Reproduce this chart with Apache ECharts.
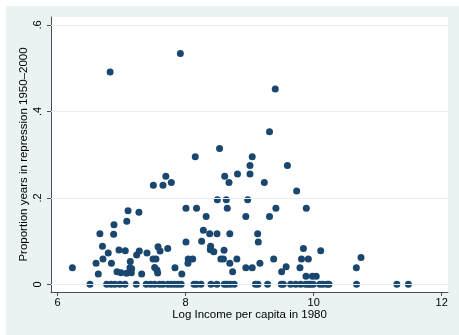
<!DOCTYPE html>
<html><head><meta charset="utf-8">
<script src="https://cdn.jsdelivr.net/npm/echarts@6/dist/echarts.min.js"></script>
<style>
html,body{margin:0;padding:0;background:#fff;width:459px;height:335px;overflow:hidden;}
#frame{position:absolute;left:6px;top:6px;width:453px;height:329px;background:#EAF2F3;}
#chart{width:453px;height:329px;}
</style></head><body><div id="frame"><div id="chart"></div></div>
<script>
const xTicks = [6, 8, 10, 12];
const yTicks = [0, 0.2, 0.4, 0.6];
const xTitle = 'Log Income per capita in 1980';
const yTitle = 'Proportion years in repression 1950\u20132000';

// countries with positive repression share
const logIncome = [6.82,7.917,9.40,9.31,8.53,9.04,8.15,9.59,9.005,7.69,8.61,8.81,9.005,7.495,7.646,7.776,8.677,9.229,9.734,8.495,8.635,8.969,8.005,8.17,8.65,9.41,9.885,7.10,7.27,8.32,8.94,9.31,7.08,6.88,6.66,6.875,8.276,8.375,8.49,8.69,9.125,9.135,8.005,8.25,6.70,7.568,8.39,7.72,6.958,7.057,7.276,7.234,6.79,7.396,7.60,8.385,8.44,8.60,9.84,10.11,10.74,6.708,7.49,7.536,8.04,8.11,8.55,8.59,8.80,9.375,9.81,9.917,7.135,6.60,6.84,8.036,8.69,9.16,7.516,6.23,7.833,8.94,9.04,9.57,9.786,10.667,7.13,7.156,7.552,6.927,6.99,7.078,7.151,7.5625,9.50,8.734,6.635,7.3125,7.94,9.88,9.98,10.04];
const repression = [0.491,0.534,0.452,0.353,0.314,0.295,0.295,0.275,0.275,0.250,0.250,0.255,0.255,0.229,0.229,0.2355,0.2355,0.2355,0.216,0.196,0.196,0.196,0.176,0.176,0.176,0.176,0.176,0.170,0.167,0.157,0.157,0.157,0.146,0.138,0.117,0.116,0.125,0.117,0.117,0.117,0.117,0.098,0.098,0.0996,0.088,0.087,0.088,0.083,0.0795,0.078,0.077,0.068,0.0726,0.0726,0.077,0.080,0.0757,0.079,0.083,0.078,0.062,0.0587,0.0587,0.0587,0.0587,0.0587,0.0587,0.0587,0.0587,0.0587,0.0587,0.0587,0.053,0.0486,0.0486,0.049,0.0486,0.0486,0.039,0.0386,0.0386,0.0386,0.0386,0.041,0.0386,0.0386,0.0386,0.036,0.033,0.029,0.027,0.0255,0.027,0.026,0.029,0.029,0.024,0.024,0.024,0.019,0.019,0.019];

// countries with zero repression share
const logIncomeZero = [6.505,6.766,6.833,6.895,6.973,7.052,7.228,7.384,7.453,7.516,7.594,7.645,7.723,7.775,7.828,7.88,7.93,8.13,8.17,8.24,8.395,8.489,8.603,8.645,8.697,8.759,9.09,9.13,9.28,9.494,9.525,9.64,9.72,9.797,9.875,9.916,9.953,9.994,10.098,10.145,10.21,10.24,10.67,11.30,11.48];
const repressionZero = logIncomeZero.map(() => 0);

const points = logIncome.map((x, i) => [x, repression[i]])
  .concat(logIncomeZero.map((x, i) => [x, repressionZero[i]]));

const FONT = '"Liberation Sans", Arial, sans-serif';
const axisColor = '#4d4d4d';

const chart = echarts.init(document.getElementById('chart'), null, {renderer: 'canvas'});
chart.setOption({
  animation: false,
  backgroundColor: 'transparent',
  textStyle: {fontFamily: FONT},
  grid: {left: 45, top: 11, width: 397, height: 275, show: true, backgroundColor: '#ffffff', borderWidth: 0},
  xAxis: {
    type: 'value', min: 5.896, max: 12.099,
    name: xTitle, nameLocation: 'middle', nameGap: 17, nameMoveOverlap: false,
    nameTextStyle: {color: '#000', fontSize: 11.5, fontFamily: FONT},
    axisLine: {show: true, onZero: false, lineStyle: {color: axisColor, width: 1}},
    axisTick: {show: true, customValues: xTicks, length: 4, lineStyle: {color: axisColor}},
    axisLabel: {customValues: xTicks, color: '#000', fontSize: 11, margin: 5, fontFamily: FONT},
    splitLine: {show: false}
  },
  yAxis: {
    type: 'value', min: -0.0177, max: 0.6185,
    name: yTitle, nameLocation: 'middle', nameGap: 21, nameRotate: 90, nameMoveOverlap: false,
    nameTextStyle: {color: '#000', fontSize: 11.5, fontFamily: FONT},
    axisLine: {show: true, onZero: false, lineStyle: {color: axisColor, width: 1}},
    axisTick: {show: true, customValues: yTicks, length: 4, lineStyle: {color: axisColor}},
    axisLabel: {customValues: yTicks, rotate: 90, color: '#000', fontSize: 11, margin: 8, fontFamily: FONT,
      formatter: v => v === 0 ? '0' : String(Math.round(v * 10) / 10).replace(/^0\./, '.')},
    splitLine: {show: false}
  },
  series: [
    {
      type: 'scatter', data: [], z: 1, silent: true,
      markLine: {
        silent: true, symbol: ['none', 'none'], label: {show: false},
        lineStyle: {color: '#E6EEF0', width: 1, type: 'solid'},
        data: yTicks.map(v => ({yAxis: v}))
      }
    },
    {
      type: 'scatter', data: points, z: 3,
      symbol: 'circle', symbolSize: 7,
      itemStyle: {color: '#1A476F', opacity: 1}
    }
  ]
});
</script></body></html>
